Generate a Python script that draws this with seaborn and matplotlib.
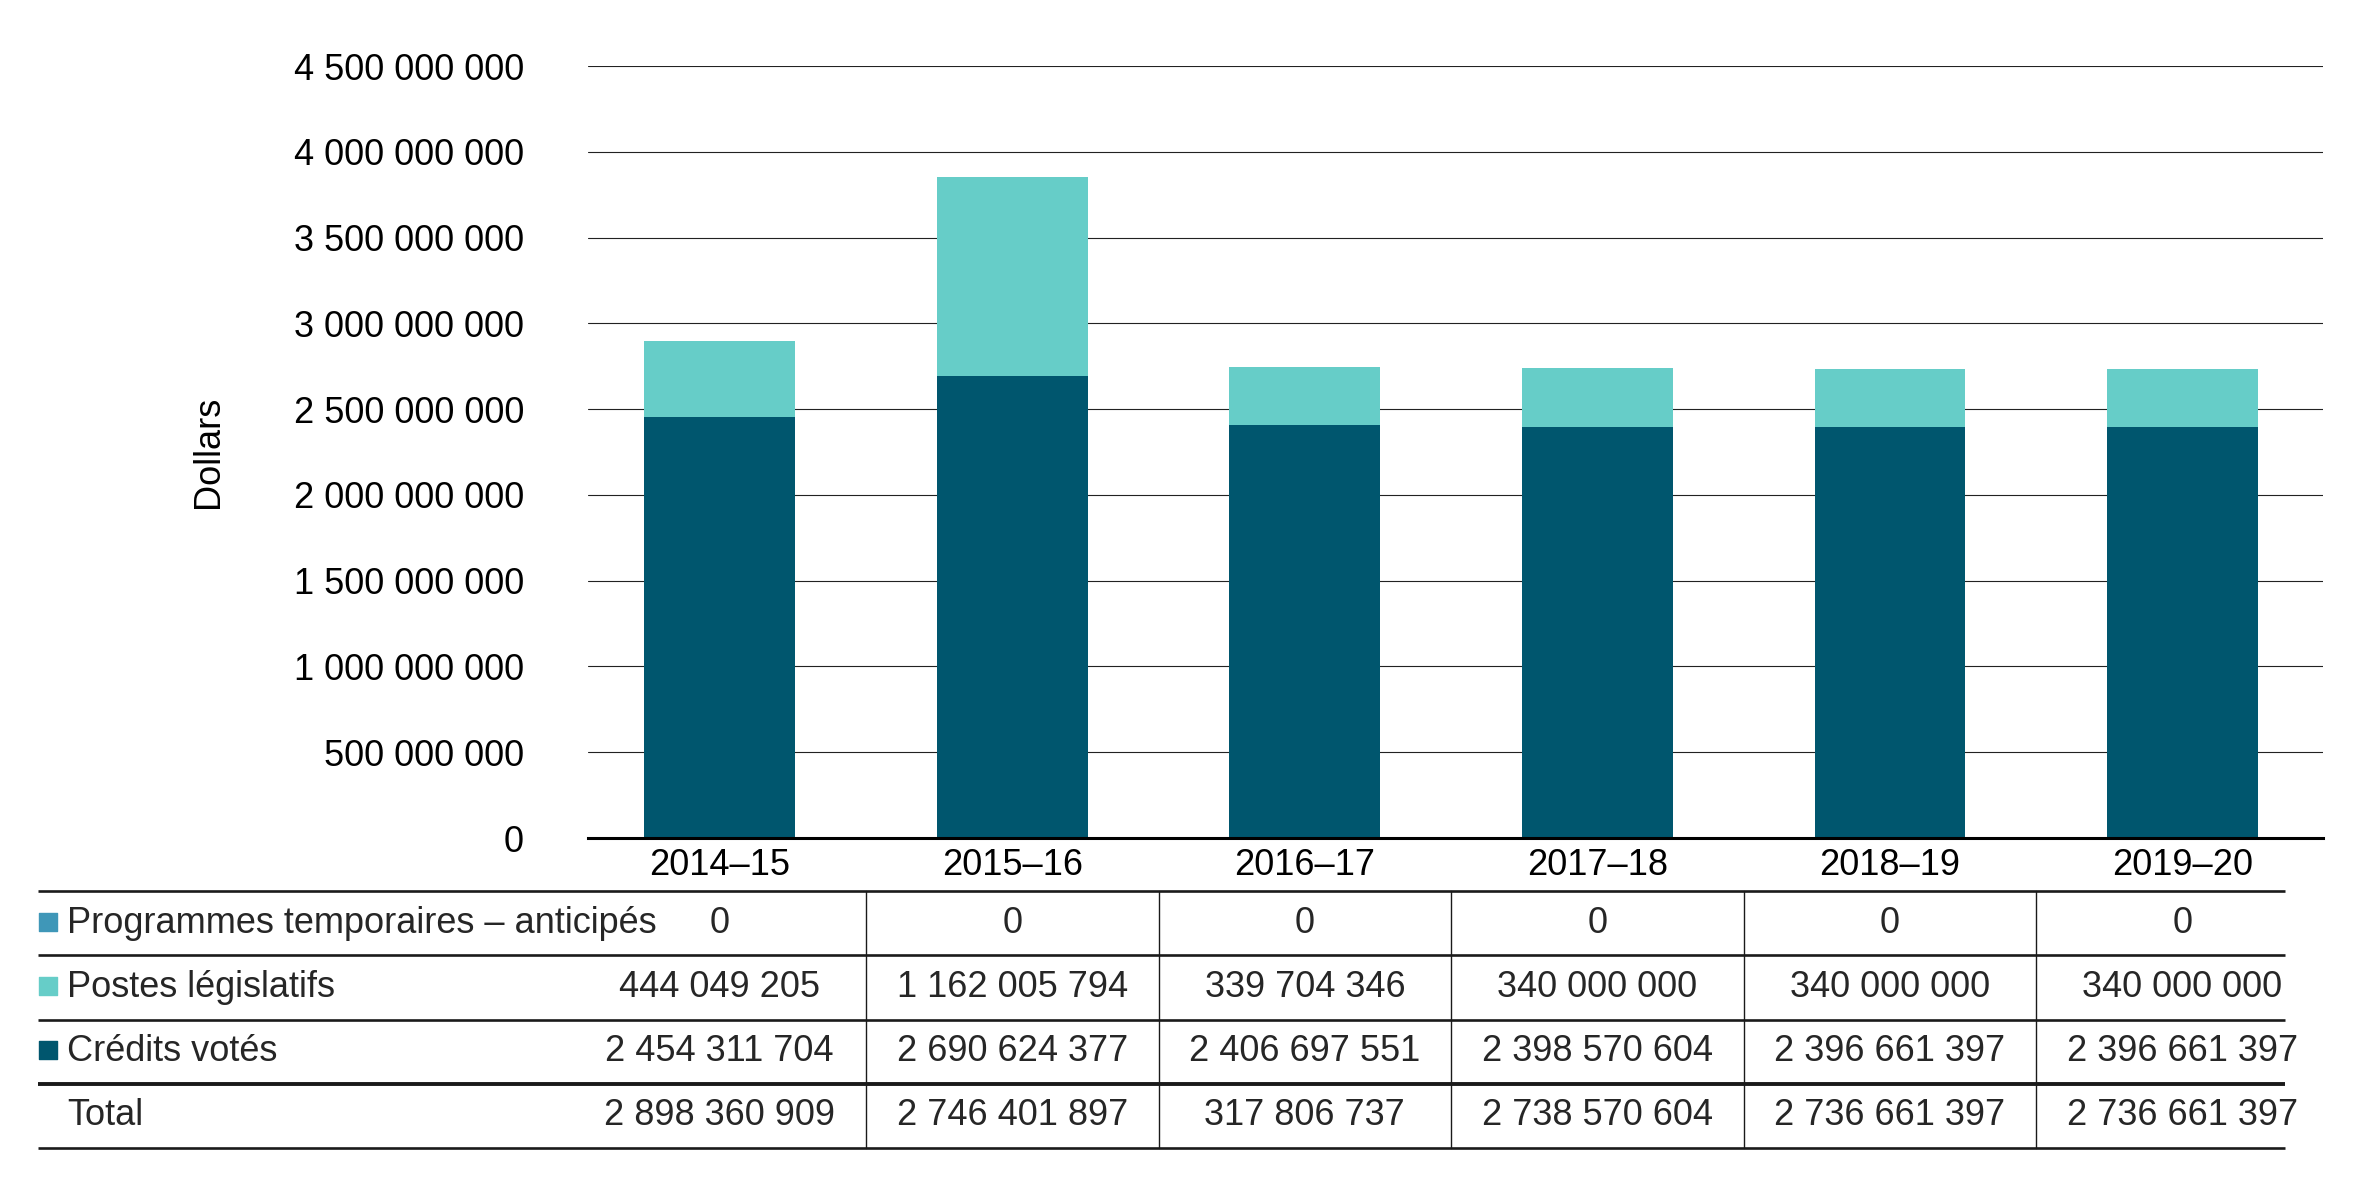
import numpy as np
import pandas as pd
import seaborn as sns
import matplotlib.pyplot as plt
from matplotlib.ticker import FuncFormatter

years = ['2014–15', '2015–16', '2016–17', '2017–18', '2018–19', '2019–20']
programmes_temp = [0, 0, 0, 0, 0, 0]
postes_legislatifs = [444049205, 1162005794, 339704346, 340000000, 340000000, 340000000]
credits_votes = [2454311704, 2690624377, 2406697551, 2398570604, 2396661397, 2396661397]
totals_shown = [2898360909, 2746401897, 317806737, 2738570604, 2736661397, 2736661397]

row_labels = ['Programmes temporaires – anticipés', 'Postes législatifs', 'Crédits votés', 'Total']
c_temp = '#3f97b8'
c_postes = '#66cdc8'
c_votes = '#00566e'

sns.set_style('white')
plt.rcParams['font.family'] = ['Liberation Sans', 'DejaVu Sans']
FS = 26

W, H = 2365, 1192
fig = plt.figure(figsize=(W / 100, H / 100), dpi=100)

# main plot area, pixel placement
px_left, px_right, px_top, px_bottom = 588, 2323, 66, 838
xmin, xmax = -0.45, 5.48
ax = fig.add_axes([px_left / W, 1 - px_bottom / H, (px_right - px_left) / W, (px_bottom - px_top) / H])

df = pd.DataFrame({'year': years, 'votes': credits_votes, 'postes': postes_legislatifs, 'temp': programmes_temp})
df['stack_postes'] = df.votes + df.postes
df['stack_temp'] = df.stack_postes + df.temp

for col, c in [('stack_temp', c_temp), ('stack_postes', c_postes), ('votes', c_votes)]:
    sns.barplot(data=df, x='year', y=col, color=c, width=0.515, saturation=1, linewidth=0, ax=ax)

ax.set_xlim(xmin, xmax)
ax.set_ylim(0, 4.5e9)
ax.set_yticks(np.arange(0, 4.5e9 + 1, 5e8))
ax.yaxis.set_major_formatter(FuncFormatter(lambda v, p: f'{v:,.0f}'.replace(',', ' ')))
ax.grid(axis='y', color='#222222', linewidth=0.8)
ax.set_axisbelow(True)
for s in ['top', 'right', 'left']:
    ax.spines[s].set_visible(False)
ax.spines['bottom'].set_linewidth(2.2)
ax.spines['bottom'].set_color('black')
ax.tick_params(axis='y', length=0, pad=46, labelsize=FS, labelcolor='black')
ax.tick_params(axis='x', length=0, pad=7, labelsize=FS, labelcolor='black')
ax.set_xlabel('')
ax.set_ylabel('Dollars', fontsize=FS, color='black')
ax.yaxis.set_label_coords((226 - px_left) / (px_right - px_left), 0.5)

# table below the chart, sharing the category scale
tb_left, tb_right, tb_top, tb_bottom = 38, 2285, 891, 1148
k = (px_right - px_left) / (xmax - xmin)
t_xmin = xmin - (px_left - tb_left) / k
t_xmax = xmax - (px_right - tb_right) / k
tax = fig.add_axes([tb_left / W, 1 - tb_bottom / H, (tb_right - tb_left) / W, (tb_bottom - tb_top) / H])
tax.set_xlim(t_xmin, t_xmax)
tax.set_ylim(4, 0)
tax.axis('off')

rows = [programmes_temp, postes_legislatifs, credits_votes, totals_shown]
colors = [c_temp, c_postes, c_votes, None]
fmt = lambda v: f'{v:,.0f}'.replace(',', ' ')
for r, (lab, vals, col) in enumerate(zip(row_labels, rows, colors)):
    yc = r + 0.5
    if col is not None:
        tax.scatter([t_xmin + 0.035], [yc - 0.02], marker='s', s=160, color=col, clip_on=False)
    tax.text(t_xmin + 0.1, yc, lab, fontsize=FS, va='center', ha='left')
    for i, v in enumerate(vals):
        tax.text(i, yc, fmt(v), fontsize=FS, va='center', ha='center')

for yl in range(5):
    lw = 2.8 if yl == 3 else 1.9
    tax.plot([t_xmin, t_xmax], [yl, yl], color='#1a1a1a', linewidth=lw, clip_on=False, solid_capstyle='butt')
for i in range(len(years) - 1):
    tax.plot([i + 0.5, i + 0.5], [0, 4], color='#1a1a1a', linewidth=1.0, clip_on=False)

fig.savefig('out.png', dpi=100)
